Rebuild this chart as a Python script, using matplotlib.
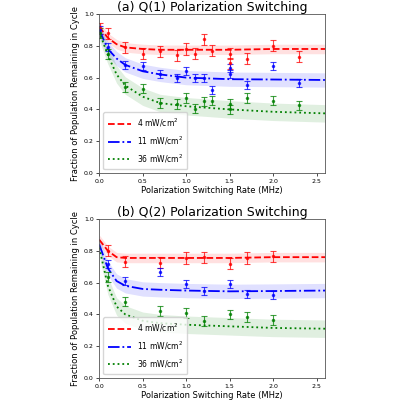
import matplotlib
matplotlib.use("Agg")
import matplotlib.pyplot as plt
import numpy as np

# panel (a) Q(1)
a_x = [0.01, 0.1, 0.3, 0.5, 0.7, 0.9, 1.0, 1.1, 1.2, 1.3, 1.5, 1.5, 1.7, 2.0, 2.3]
a_red = [0.91, 0.88, 0.79, 0.75, 0.765, 0.74, 0.78, 0.75, 0.84, 0.77, 0.75, 0.69, 0.72, 0.80, 0.73]
a_blue = [0.90, 0.79, 0.68, 0.67, 0.62, 0.60, 0.64, 0.60, 0.60, 0.52, 0.66, 0.62, 0.555, 0.675, 0.565]
a_green = [0.88, 0.75, 0.54, 0.53, 0.44, 0.435, 0.47, 0.405, 0.45, 0.455, 0.435, 0.40, 0.47, 0.455, 0.425]
a_mx = [0.0, 0.1, 0.2, 0.3, 0.5, 0.7, 1.0, 1.5, 2.0, 2.6]
a_mred = [0.92, 0.85, 0.81, 0.79, 0.78, 0.775, 0.775, 0.775, 0.78, 0.78]
a_mblue = [0.90, 0.78, 0.72, 0.68, 0.64, 0.62, 0.60, 0.59, 0.588, 0.585]
a_mgreen = [0.89, 0.74, 0.62, 0.55, 0.48, 0.44, 0.42, 0.40, 0.385, 0.375]

# panel (b) Q(2)
b_x = [0.1, 0.3, 0.7, 1.0, 1.2, 1.5, 1.7, 2.0]
b_red = [0.80, 0.73, 0.725, 0.755, 0.76, 0.72, 0.755, 0.765]
b_blue = [0.715, 0.61, 0.665, 0.59, 0.545, 0.59, 0.53, 0.52]
b_green = [0.635, 0.48, 0.42, 0.41, 0.36, 0.40, 0.385, 0.365]
b_mx = [0.0, 0.1, 0.2, 0.3, 0.5, 0.7, 1.0, 1.5, 2.0, 2.6]
b_mred = [0.87, 0.80, 0.76, 0.755, 0.755, 0.755, 0.755, 0.755, 0.76, 0.76]
b_mblue = [0.84, 0.69, 0.61, 0.58, 0.56, 0.555, 0.55, 0.545, 0.547, 0.55]
b_mgreen = [0.82, 0.58, 0.45, 0.40, 0.36, 0.345, 0.335, 0.325, 0.315, 0.31]

err = {"red": 0.035, "blue": 0.025, "green": 0.03}
band = {"red": 0.03, "blue": 0.045, "green": 0.055}
labels = ["4 mW/cm$^2$", "11 mW/cm$^2$", "36 mW/cm$^2$"]
styles = ["--", "-.", ":"]
colors = ["red", "blue", "green"]

fig = plt.figure(figsize=(4, 4), dpi=100)
ax1 = fig.add_axes([0.248, 0.5675, 0.565, 0.3975])
ax2 = fig.add_axes([0.248, 0.055, 0.565, 0.3975])
panels = [
    (ax1, "(a) Q(1) Polarization Switching", a_x, [a_red, a_blue, a_green], a_mx, [a_mred, a_mblue, a_mgreen]),
    (ax2, "(b) Q(2) Polarization Switching", b_x, [b_red, b_blue, b_green], b_mx, [b_mred, b_mblue, b_mgreen]),
]
for ax, title, x, ys, mx, mys in panels:
    for y, my, c, ls, lab in zip(ys, mys, colors, styles, labels):
        my = np.array(my)
        ax.fill_between(mx, my - band[c], my + band[c], color=c, alpha=0.12, lw=0)
        ax.plot(mx, my, ls=ls, color=c, lw=1.3, label=lab)
        ax.errorbar(x, y, yerr=err[c], fmt=".", color=c, ms=3, elinewidth=0.8,
                    capsize=2, capthick=0.8, alpha=0.75)
    ax.set_xlim(0, 2.6)
    ax.set_ylim(0, 1.0)
    ax.set_title(title, fontsize=9, pad=2)
    ax.set_xlabel("Polarization Switching Rate (MHz)", fontsize=6, labelpad=2)
    ax.set_ylabel("Fraction of Population Remaining in Cycle", fontsize=6, labelpad=3)
    ax.tick_params(labelsize=4.5, length=2, width=0.5, pad=2)
    ax.legend(loc="lower left", fontsize=5.5, handlelength=3, borderpad=0.6, labelspacing=0.7)
    for s in ax.spines.values():
        s.set_linewidth(0.6)
        s.set_color("#555555")

plt.savefig("out.png")
